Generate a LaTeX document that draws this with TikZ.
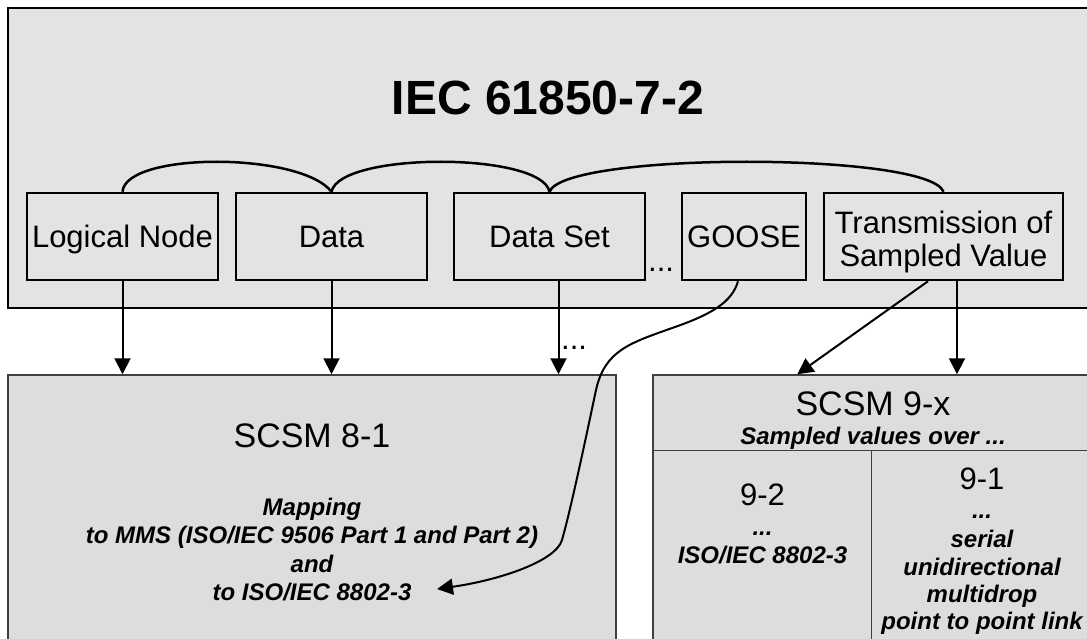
\documentclass[tikz,border=0pt]{standalone}
\usepackage{fontspec}
\setmainfont{Liberation Sans}
\usetikzlibrary{arrows.meta,calc}
\definecolor{topgray}{HTML}{E3E3E3}
\definecolor{botgray}{HTML}{DDDDDD}
\definecolor{botline}{HTML}{404040}
\begin{document}
\begin{tikzpicture}[x=1pt,y=-1pt,
  outerbox/.style={draw=black, line width=2.8pt, fill=topgray},
  botbox/.style={draw=botline, line width=1.5pt, fill=botgray, inner sep=0pt},
  sbox/.style={draw=black, line width=2.5pt, minimum height=87pt, inner sep=0pt,
    font=\fontsize{31}{33}\selectfont, align=center},
  oneline/.style={text height=22pt, text depth=0pt},
  arc/.style={draw=black, line width=2.5pt},
  arr/.style={draw=black, line width=2pt, -{Triangle[length=16pt,width=16pt]}},
  divider/.style={draw=botline, line width=1.5pt},
  titletext/.style={font=\fontsize{48}{52}\selectfont\bfseries, anchor=base, inner sep=0pt},
  bigtext/.style={font=\fontsize{34}{38}\selectfont, anchor=base, inner sep=0pt},
  midtext/.style={font=\fontsize{31}{35}\selectfont, anchor=base, inner sep=0pt},
  bitext/.style={font=\fontsize{24}{28}\selectfont\bfseries\itshape, anchor=base, inner sep=0pt},
  dotstext/.style={font=\fontsize{31}{35}\selectfont, anchor=base west, inner sep=0pt}
]
\useasboundingbox (0,0) rectangle (1087,639);

% top container
\draw[outerbox] (8,8) rectangle (1100,308);
\node[titletext] (title) at (548,115) {IEC 61850-7-2};

% element boxes
\node[sbox, oneline, minimum width=191pt] (ln) at (122.5,236.5) {Logical Node};
\node[sbox, oneline, minimum width=191pt] (data) at (331.5,236.5) {Data};
\node[sbox, oneline, minimum width=191pt] (ds) at (549.5,236.5) {Data Set};
\node[sbox, oneline, minimum width=124pt] (goose) at (744,236.5) {GOOSE};
\node[sbox, minimum width=239pt, text height=59pt, text depth=0pt] (tsv) at (943.5,236.5) {Transmission of\\Sampled Value};
\node[dotstext] (dotsA) at (648,271) {...};

% braces
\draw[arc] (ln.north) .. controls +(3,-40) and +(-31,-40) .. (data.north);
\draw[arc] (data.north) .. controls +(8,-40) and +(-8,-40) .. (ds.north);
\draw[arc] (ds.north) .. controls +(15,-40) and +(-15,-40) .. (tsv.north);

% bottom boxes
\node[botbox, minimum width=608pt, minimum height=325pt] (s8) at (312,537.5) {};
\node[botbox, minimum width=440pt, minimum height=325pt] (s9) at (873,537.5) {};
\draw[divider] ($(s9.north west)+(0,76)$) -- ($(s9.north east)+(0,76)$);
\draw[divider] ($(s9.north west)+(219,76)$) -- ($(s9.south west)+(219,0)$);

% texts in SCSM 8-1
\node[bigtext] (t8) at (312,447) {SCSM 8-1};
\node[bitext] (m1) at (312,515) {Mapping};
\node[bitext] (m2) at (312,543.5) {to MMS (ISO/IEC 9506 Part 1 and Part 2)};
\node[bitext] (m3) at (312,572) {and};
\node[bitext] (m4) at (312,600.5) {to ISO/IEC 8802-3};

% texts in SCSM 9-x
\node[bigtext] (t9) at (873,415) {SCSM 9-x};
\node[bitext] (t9s) at (873,444) {Sampled values over ...};
\node[midtext] (t92) at (762.5,505) {9-2};
\node[bitext] (t92a) at (762.5,535) {...};
\node[bitext] (t92b) at (762.5,563) {ISO/IEC 8802-3};
\node[midtext] (t91) at (982,489) {9-1};
\node[bitext] (t91a) at (982,518) {...};
\node[bitext] (t91b) at (982,547) {serial};
\node[bitext] (t91c) at (982,575) {unidirectional};
\node[bitext] (t91d) at (982,602) {multidrop};
\node[bitext] (t91e) at (982,629) {point to point link};

% arrows
\draw[arr] (ln.south) -- (ln.south |- s8.north);
\draw[arr] (data.south) -- (data.south |- s8.north);
\draw[arr] ([xshift=9pt]ds.south) -- ([xshift=9pt]ds.south |- s8.north);
\node[dotstext] (dotsB) at (561,349) {...};
\draw[arr] ([xshift=-15.5pt]tsv.south) -- ($(s9.north west)+(145,0)$);
\draw[arr] ([xshift=13.5pt]tsv.south) -- ([xshift=13.5pt]tsv.south |- s9.north);
\coordinate (gend) at (437,589);
\draw[arr] ([xshift=-6pt]goose.south) .. controls (732,302) and (712,314) .. (675,327)
  .. controls (630,343) and (605,350) .. (596,390)
  .. controls (590,418) and (572,505) .. (562,540)
  .. controls (556,561) and (500,580) .. (gend);
\end{tikzpicture}
\end{document}
